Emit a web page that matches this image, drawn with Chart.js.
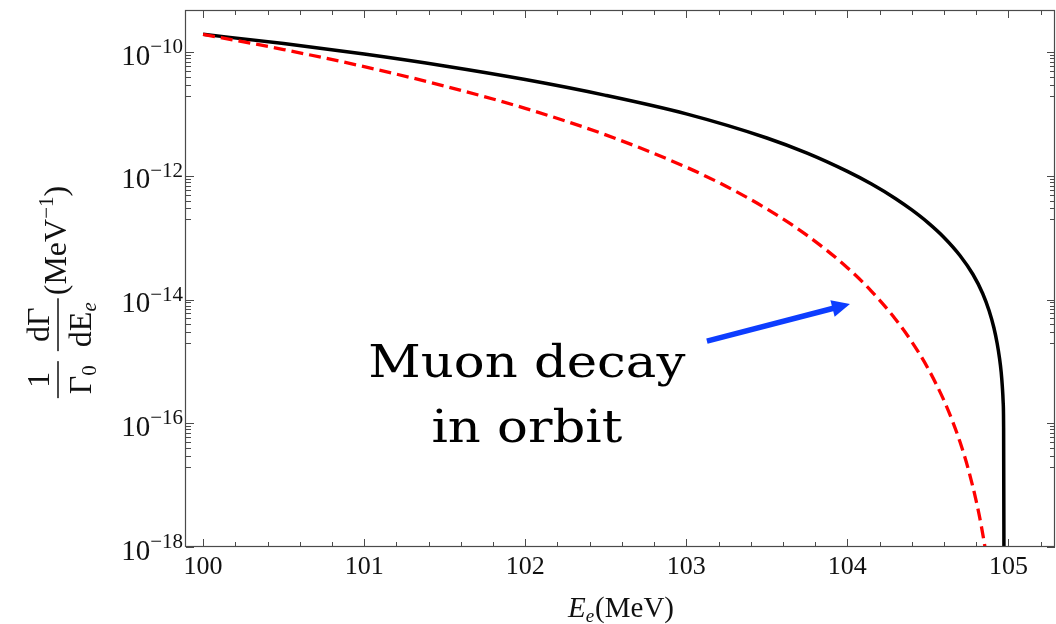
<!DOCTYPE html>
<html>
<head>
<meta charset="utf-8">
<script src="https://cdn.jsdelivr.net/npm/chart.js@4.4.1/dist/chart.umd.min.js"></script>
<style>
  html, body { margin: 0; padding: 0; background: #ffffff; }
  #wrap { width: 1056px; height: 624px; }
</style>
</head>
<body>
<div id="wrap"><canvas id="spectrum" width="1056" height="624"></canvas></div>
<script>
// Electron energy (MeV) and differential rate 1/Γ0 dΓ/dE_e (MeV^-1)
const solidE = [100, 100.5, 101, 101.5, 102, 102.5, 103, 103.5, 103.75, 104, 104.15, 104.3, 104.4,
                104.5, 104.6, 104.7, 104.78, 104.84, 104.88, 104.91, 104.93, 104.945, 104.955,
                104.962, 104.967, 104.97, 104.972, 104.973];
const solidRate = [1.95e-10, 1.384e-10, 9.35e-11, 6.0e-11, 3.62e-11, 2.01e-11, 1.008e-11, 4.11e-12,
                   2.336e-12, 1.184e-12, 7.41e-13, 4.29e-13, 2.82e-13, 1.76e-13, 1.013e-13, 5.13e-14,
                   2.55e-14, 1.26e-14, 6.61e-15, 3.48e-15, 1.957e-15, 1.107e-15, 6.67e-16, 3.92e-16,
                   2.25e-16, 8.5e-17, 1e-18, 1e-20];

const dashedE = [100, 100.5, 101, 101.5, 102, 102.5, 103, 103.25, 103.5, 103.75, 104, 104.15, 104.3,
                 104.4, 104.5, 104.6, 104.65, 104.7, 104.75, 104.8, 104.83, 104.86, 104.88];
const dashedRate = [1.95e-10, 1.107e-10, 5.86e-11, 2.84e-11, 1.239e-11, 4.62e-12, 1.387e-12,
                    6.75e-13, 2.93e-13, 1.096e-13, 3.29e-14, 1.365e-14, 4.79e-15, 2.08e-15,
                    7.78e-16, 2.33e-16, 1.13e-16, 4.93e-17, 1.84e-17, 5.52e-18, 2.30e-18,
                    8.05e-19, 3.5e-19];

// Axis ticks
const xTickValues = [100, 101, 102, 103, 104, 105];
const yTickExponents = [-10, -12, -14, -16, -18];

// Annotation text
const noteLines = ['Muon decay', 'in orbit'];

const serif = '"Liberation Serif", "Times New Roman", serif';
const frameColor = '#4a4a4a';
const labelColor = '#111111';

const toPoints = (xs, ys) => xs.map((x, i) => ({ x: x, y: ys[i] }));

// Frame, inward ticks, superscript tick labels, axis titles and the annotation
const decorations = {
  id: 'decorations',
  afterDatasetsDraw(chart) {
    const ctx = chart.ctx;
    const { left, right, top, bottom } = chart.chartArea;
    const xs = chart.scales.x, ys = chart.scales.y;
    ctx.save();

    // ticks on all four sides
    ctx.strokeStyle = frameColor;
    ctx.lineWidth = 1;
    ctx.beginPath();
    for (let i = Math.ceil(xs.min * 5); i <= Math.floor(xs.max * 5); i++) {
      const len = (i % 5 === 0) ? 8 : 5;
      const px = Math.round(xs.getPixelForValue(i / 5)) + 0.5;
      ctx.moveTo(px, bottom); ctx.lineTo(px, bottom - len);
      ctx.moveTo(px, top); ctx.lineTo(px, top + len);
    }
    yTickExponents.forEach(e => {
      const marks = [{ v: Math.pow(10, e), len: 8 }];
      for (let k = 2; k <= 9; k++) marks.push({ v: k * Math.pow(10, e - 1), len: 5 });
      marks.forEach(m => {
        if (m.v < ys.min || m.v > ys.max) return;
        const py = Math.round(ys.getPixelForValue(m.v)) + 0.5;
        ctx.moveTo(left, py); ctx.lineTo(left + m.len, py);
        ctx.moveTo(right, py); ctx.lineTo(right - m.len, py);
      });
    });
    ctx.stroke();

    // frame
    ctx.lineWidth = 1.2;
    ctx.strokeRect(left - 0.5, top + 0.5, right - left, bottom - top - 1);

    // y tick labels: 10 with a raised exponent
    ctx.fillStyle = labelColor;
    ctx.textAlign = 'left';
    ctx.textBaseline = 'alphabetic';
    yTickExponents.forEach(e => {
      const py = ys.getPixelForValue(Math.pow(10, e));
      const sup = '\u2212' + Math.abs(e);
      ctx.font = '21px ' + serif;
      const ws = ctx.measureText(sup).width;
      ctx.font = '29px ' + serif;
      const wb = ctx.measureText('10').width;
      const xr = left - 3;
      ctx.fillText('10', xr - ws - wb, py + 12.5);
      ctx.font = '21px ' + serif;
      ctx.fillText(sup, xr - ws, py + 1);
    });

    // x title: E_e(MeV)
    {
      ctx.font = 'italic 29px ' + serif;
      const wE = ctx.measureText('E').width;
      ctx.font = 'italic 19px ' + serif;
      const we = ctx.measureText('e').width;
      ctx.font = '29px ' + serif;
      const wu = ctx.measureText('(MeV)').width;
      let x0 = (left + right) / 2 - (wE + we + wu) / 2;
      const base = 617;
      ctx.font = 'italic 29px ' + serif; ctx.fillText('E', x0, base); x0 += wE;
      ctx.font = 'italic 19px ' + serif; ctx.fillText('e', x0, base + 5); x0 += we + 1;
      ctx.font = '29px ' + serif; ctx.fillText('(MeV)', x0, base);
    }

    // y title: (1/Γ0)(dΓ/dE_e)(MeV^-1), rotated
    {
      const big = '32px ' + serif, small = '21px ' + serif, smallIt = 'italic 21px ' + serif;
      ctx.font = big;
      const w1 = ctx.measureText('1').width;
      const wG = ctx.measureText('\u0393').width;
      const wdG = ctx.measureText('d\u0393').width;
      const wdE = ctx.measureText('dE').width;
      const wM = ctx.measureText('(MeV').width;
      const wP = ctx.measureText(')').width;
      ctx.font = small;
      const w0 = ctx.measureText('0').width;
      const wm1 = ctx.measureText('\u22121').width;
      ctx.font = smallIt;
      const wse = ctx.measureText('e').width;

      const f1 = Math.max(w1, wG + w0) + 8;
      const f2 = Math.max(wdG, wdE + wse) + 8;
      const gap = 10;
      const total = f1 + gap + f2 + 3 + wM + wm1 + wP;
      ctx.translate(58, 292);
      ctx.rotate(-Math.PI / 2);
      let x = -total / 2;
      const numBase = -9, denBase = 33;

      // first fraction
      ctx.font = big;
      ctx.fillText('1', x + (f1 - w1) / 2, numBase);
      ctx.fillText('\u0393', x + (f1 - wG - w0) / 2, denBase);
      ctx.font = small;
      ctx.fillText('0', x + (f1 - wG - w0) / 2 + wG, denBase + 5);
      ctx.fillRect(x, -0.75, f1, 1.5);
      x += f1 + gap;

      // second fraction
      ctx.font = big;
      ctx.fillText('d\u0393', x + (f2 - wdG) / 2, numBase);
      ctx.fillText('dE', x + (f2 - wdE - wse) / 2, denBase);
      ctx.font = smallIt;
      ctx.fillText('e', x + (f2 - wdE - wse) / 2 + wdE, denBase + 5);
      ctx.fillRect(x, -0.75, f2, 1.5);
      x += f2 + 3;

      // units
      const ub = 8;
      ctx.font = big;
      ctx.fillText('(MeV', x, ub); x += wM;
      ctx.font = small;
      ctx.fillText('\u22121', x, ub - 13); x += wm1;
      ctx.font = big;
      ctx.fillText(')', x, ub);
      ctx.setTransform(1, 0, 0, 1, 0, 0);
    }

    // annotation text, anchored in data space
    {
      const cx = xs.getPixelForValue(102.01);
      const bases = [ys.getPixelForValue(5.6e-16), ys.getPixelForValue(5.0e-17)];
      ctx.font = '44px "DejaVu Serif", serif';
      ctx.fillStyle = '#000000';
      ctx.textAlign = 'center';
      const w = ctx.measureText(noteLines[0]).width;
      const sx = 317 / w;
      noteLines.forEach((t, i) => {
        ctx.save();
        ctx.translate(cx, bases[i]);
        ctx.scale(sx, 1);
        ctx.fillText(t, 0, 0);
        ctx.restore();
      });
    }

    // arrow pointing at the dashed curve
    {
      const x0 = xs.getPixelForValue(103.128), y0 = ys.getPixelForValue(2.14e-15);
      const x1 = xs.getPixelForValue(104.016), y1 = ys.getPixelForValue(8.5e-15);
      const ang = Math.atan2(y1 - y0, x1 - x0);
      const headLen = 18, headHalf = 8.5;
      const bx = x1 - headLen * Math.cos(ang), by = y1 - headLen * Math.sin(ang);
      ctx.strokeStyle = '#0d3dff';
      ctx.fillStyle = '#0d3dff';
      ctx.lineWidth = 5.5;
      ctx.lineCap = 'butt';
      ctx.beginPath();
      ctx.moveTo(x0, y0);
      ctx.lineTo(bx + 2 * Math.cos(ang), by + 2 * Math.sin(ang));
      ctx.stroke();
      ctx.beginPath();
      ctx.moveTo(x1, y1);
      ctx.lineTo(bx - headHalf * Math.sin(ang), by + headHalf * Math.cos(ang));
      ctx.lineTo(bx + headHalf * Math.sin(ang), by - headHalf * Math.cos(ang));
      ctx.closePath();
      ctx.fill();
    }

    ctx.restore();
  }
};

new Chart(document.getElementById('spectrum'), {
  type: 'line',
  data: {
    datasets: [
      {
        data: toPoints(solidE, solidRate),
        borderColor: '#000000',
        borderWidth: 3.5,
        pointRadius: 0,
        cubicInterpolationMode: 'monotone',
        clip: 0,
        order: 1
      },
      {
        data: toPoints(dashedE, dashedRate),
        borderColor: '#ff0000',
        borderWidth: 3.3,
        borderDash: [12, 6],
        pointRadius: 0,
        cubicInterpolationMode: 'monotone',
        clip: 0,
        order: 0
      }
    ]
  },
  options: {
    responsive: false,
    animation: false,
    devicePixelRatio: 1,
    layout: { padding: { top: 10, right: 1, left: 0, bottom: 0 } },
    plugins: { legend: { display: false }, tooltip: { enabled: false } },
    scales: {
      x: {
        type: 'linear',
        min: 99.894,
        max: 105.289,
        grid: { display: false, drawTicks: false },
        border: { display: false },
        afterBuildTicks: s => { s.ticks = xTickValues.map(v => ({ value: v })); },
        afterFit: s => { s.height = 77; },
        ticks: {
          color: labelColor,
          font: { family: serif, size: 26 },
          padding: 5,
          maxRotation: 0,
          autoSkip: false,
          callback: v => String(v)
        }
      },
      y: {
        type: 'logarithmic',
        min: 1e-18,
        max: 4.83e-10,
        grid: { display: false, drawTicks: false },
        border: { display: false },
        ticks: { display: false },
        afterFit: s => { s.width = 186; }
      }
    }
  },
  plugins: [decorations]
});
</script>
</body>
</html>
